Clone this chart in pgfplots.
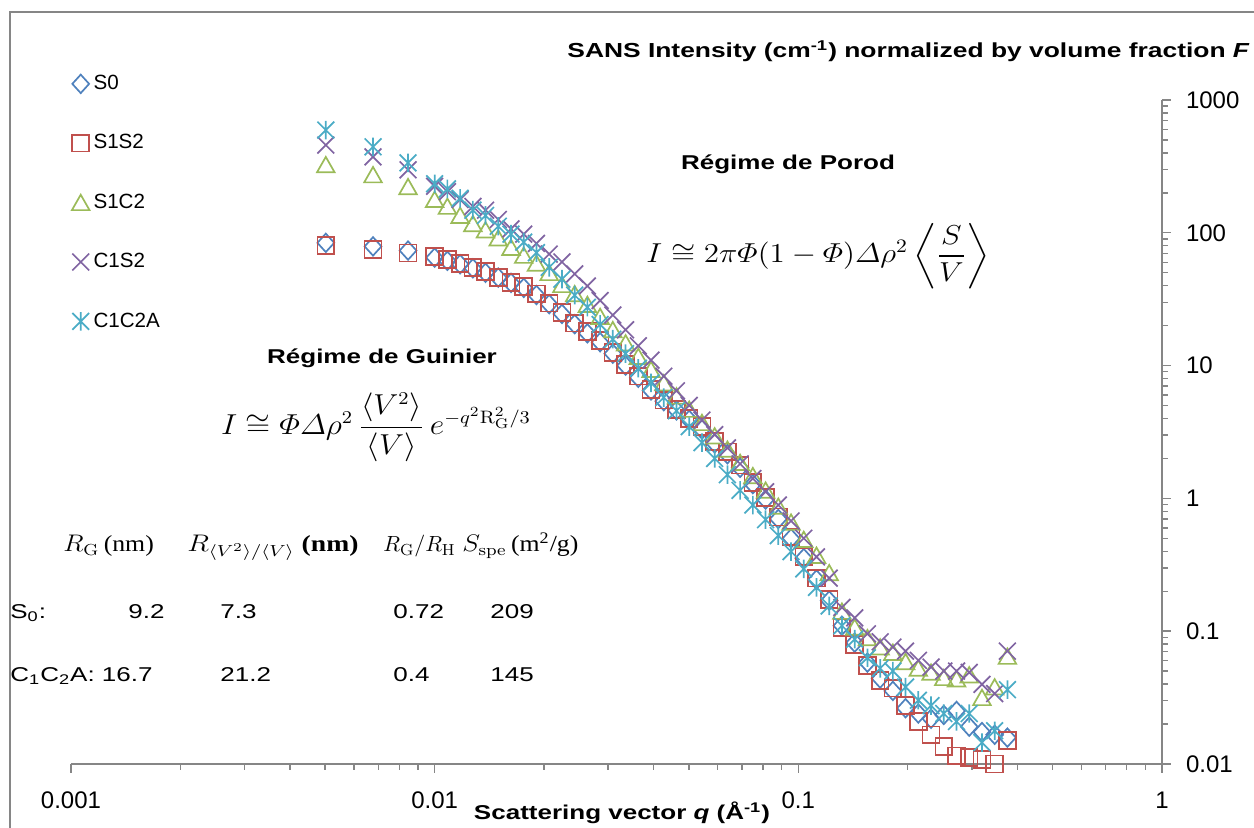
\documentclass[border=0pt]{standalone}
\usepackage{amsmath}
\usepackage[no-math]{fontspec}
\setmainfont{Liberation Sans}
\newfontfamily\wide[FakeStretch=1.3]{Liberation Sans}
\newfontfamily\serif{Liberation Serif}
\usepackage{graphicx}
\usepackage{pgfplots}
\pgfplotsset{compat=1.18}

\definecolor{cSO}{HTML}{4F81BD}
\definecolor{cSS}{HTML}{C0504D}
\definecolor{cSC}{HTML}{9BBB59}
\definecolor{cCS}{HTML}{8064A2}
\definecolor{cCC}{HTML}{4BACC6}
\definecolor{axgray}{HTML}{868686}

% Excel-like markers
\pgfdeclareplotmark{rdiamond}{%
  \pgfpathmoveto{\pgfqpoint{0pt}{1.1\pgfplotmarksize}}%
  \pgfpathlineto{\pgfqpoint{\pgfplotmarksize}{0pt}}%
  \pgfpathlineto{\pgfqpoint{0pt}{-1.1\pgfplotmarksize}}%
  \pgfpathlineto{\pgfqpoint{-\pgfplotmarksize}{0pt}}%
  \pgfpathclose\pgfusepathqstroke}
\pgfdeclareplotmark{tri}{%
  \pgfpathmoveto{\pgfqpoint{0pt}{0.9\pgfplotmarksize}}%
  \pgfpathlineto{\pgfqpoint{\pgfplotmarksize}{-0.85\pgfplotmarksize}}%
  \pgfpathlineto{\pgfqpoint{-\pgfplotmarksize}{-0.85\pgfplotmarksize}}%
  \pgfpathclose\pgfusepathqstroke}
\pgfdeclareplotmark{xcross}{%
  \pgfpathmoveto{\pgfqpoint{-\pgfplotmarksize}{-\pgfplotmarksize}}%
  \pgfpathlineto{\pgfqpoint{\pgfplotmarksize}{\pgfplotmarksize}}%
  \pgfpathmoveto{\pgfqpoint{-\pgfplotmarksize}{\pgfplotmarksize}}%
  \pgfpathlineto{\pgfqpoint{\pgfplotmarksize}{-\pgfplotmarksize}}%
  \pgfusepathqstroke}
\pgfdeclareplotmark{xstar}{%
  \pgfpathmoveto{\pgfqpoint{-\pgfplotmarksize}{-\pgfplotmarksize}}%
  \pgfpathlineto{\pgfqpoint{\pgfplotmarksize}{\pgfplotmarksize}}%
  \pgfpathmoveto{\pgfqpoint{-\pgfplotmarksize}{\pgfplotmarksize}}%
  \pgfpathlineto{\pgfqpoint{\pgfplotmarksize}{-\pgfplotmarksize}}%
  \pgfpathmoveto{\pgfqpoint{0pt}{1.1\pgfplotmarksize}}%
  \pgfpathlineto{\pgfqpoint{0pt}{-1.1\pgfplotmarksize}}%
  \pgfusepathqstroke}

\begin{document}
\begin{tikzpicture}
\path[use as bounding box] (0,0) rectangle (627pt,414pt);
\begin{axis}[
    at={(35.5pt,32pt)}, anchor=south west,
    scale only axis, width=545.5pt, height=332pt,
    xmode=log, ymode=log,
    xmin=0.001, xmax=1, ymin=0.01, ymax=1000,
    axis x line=bottom, axis y line=right,
    axis line style={draw=axgray, line width=1.1pt, -},
    tick align=outside,
    xtick={0.001,0.01,0.1,1}, xticklabels={0.001,0.01,0.1,1},
    minor xtick={0.002,0.003,0.004,0.005,0.006,0.007,0.008,0.009,
                 0.02,0.03,0.04,0.05,0.06,0.07,0.08,0.09,
                 0.2,0.3,0.4,0.5,0.6,0.7,0.8,0.9},
    ytick={0.01,0.1,1,10,100,1000}, yticklabels={0.01,0.1,1,10,100,1000},
    minor ytick={0.02,0.03,0.04,0.05,0.06,0.07,0.08,0.09,
                 0.2,0.3,0.4,0.5,0.6,0.7,0.8,0.9,
                 2,3,4,5,6,7,8,9,20,30,40,50,60,70,80,90,
                 200,300,400,500,600,700,800,900},
    major tick length=4.5pt, minor tick length=3pt,
    tick style={draw=axgray, line width=0.7pt},
    tick label style={font=\fontsize{12}{14}\selectfont},
    xticklabel style={anchor=north, yshift=-6pt},
    yticklabel style={anchor=west, xshift=4pt},
    clip=false,
    legend cell align=left,
    legend style={at={(axis description cs:0.0005,1.044)}, anchor=north west,
        draw=none, fill=none, inner sep=0pt, row sep=17pt,
        font=\fontsize{10.3}{12}\selectfont},
    legend image code/.code={\draw[mark repeat=2,mark phase=2,#1]
        plot coordinates {(0cm,0cm) (0.15cm,0cm) (0.3cm,0cm)};},
    every axis plot/.append style={only marks, line width=0.85pt},
]
% S0
\addplot[color=cSO, mark=rdiamond, mark size=4.2pt] coordinates {
(0.00502,84) (0.00677,79) (0.00845,73.5)
(0.0100,65.0) (0.01084,61.5) (0.01175,58.0) (0.01274,54.0) (0.0138,50.0)
(0.01496,46.0) (0.01622,42.0) (0.01758,38.5) (0.01905,34.0) (0.02065,29.0)
(0.02239,24.5) (0.02427,20.5) (0.0263,17.5) (0.02851,15.0) (0.0309,12.3)
(0.0335,10.0) (0.03631,8.1) (0.03936,6.5) (0.04266,5.4) (0.04624,4.6)
(0.05012,3.9) (0.05433,3.3) (0.05888,2.6) (0.06383,2.15) (0.06918,1.70)
(0.07499,1.28) (0.08128,0.98) (0.0881,0.70) (0.0955,0.50) (0.1035,0.355)
(0.1122,0.245) (0.1216,0.170) (0.1318,0.110) (0.1429,0.082) (0.1549,0.058)
(0.1679,0.044) (0.182,0.0355) (0.1972,0.0263) (0.2138,0.0240) (0.2317,0.0219)
(0.2512,0.0234) (0.2723,0.0251) (0.2951,0.0191) (0.3199,0.0174) (0.3467,0.0166)
(0.3758,0.0158)
};
% S1S2
\addplot[color=cSS, mark=square, mark size=4.2pt] coordinates {
(0.00502,80) (0.00677,75) (0.00845,70.5)
(0.0100,66.1) (0.01084,63.1) (0.01175,58.9) (0.01274,55.0) (0.0138,51.3)
(0.01496,46.2) (0.01622,42.2) (0.01758,39.4) (0.01905,34.7) (0.02065,29.5)
(0.02239,25.1) (0.02427,20.9) (0.0263,18.0) (0.02851,15.5) (0.0309,12.6)
(0.0335,10.2) (0.03631,8.32) (0.03936,6.61) (0.04266,5.50) (0.04624,4.68)
(0.05012,3.98) (0.05433,3.47) (0.05888,2.69) (0.06383,2.24) (0.06918,1.78)
(0.07499,1.32) (0.08128,1.02) (0.0881,0.724) (0.0955,0.513) (0.1035,0.363)
(0.1122,0.251) (0.1216,0.174) (0.1318,0.107) (0.1429,0.0794) (0.1549,0.0550)
(0.1679,0.0427) (0.182,0.0372) (0.1972,0.0275) (0.2138,0.0209) (0.2317,0.0166)
(0.2512,0.0135) (0.2723,0.0115) (0.2951,0.0112) (0.3199,0.0108) (0.3467,0.0100)
(0.3758,0.0150)
};
% S1C2
\addplot[color=cSC, mark=tri, mark size=4.4pt] coordinates {
(0.00502,325) (0.00677,273) (0.00845,222)
(0.0100,178) (0.01084,158) (0.01175,135) (0.01274,117) (0.0138,105)
(0.01496,91.2) (0.01622,77.6) (0.01758,67.6) (0.01905,58.9) (0.02065,50.1)
(0.02239,40.7) (0.02427,34.7) (0.0263,28.8) (0.02851,23.4) (0.0309,18.6)
(0.0335,14.8) (0.03631,11.7) (0.03936,9.33) (0.04266,7.41) (0.04624,5.89)
(0.05012,4.68) (0.05433,3.72) (0.05888,2.95) (0.06383,2.34) (0.06918,1.86)
(0.07499,1.48) (0.08128,1.15) (0.0881,0.871) (0.0955,0.661) (0.1035,0.490)
(0.1122,0.372) (0.1216,0.275) (0.1318,0.141) (0.1429,0.107) (0.1549,0.0891)
(0.1679,0.0759) (0.182,0.0692) (0.1972,0.0589) (0.2138,0.0525) (0.2317,0.0490)
(0.2512,0.0447) (0.2723,0.0437) (0.2951,0.0468) (0.3199,0.0316) (0.3467,0.0380)
(0.3758,0.0646)
};
% C1S2
\addplot[color=cCS, mark=xcross, mark size=4.2pt] coordinates {
(0.00502,458) (0.00677,373) (0.00845,298)
(0.0100,224) (0.01084,204) (0.01175,178) (0.01274,158) (0.0138,148)
(0.01496,126) (0.01622,107) (0.01758,97.7) (0.01905,83.2) (0.02065,69.2)
(0.02239,60.3) (0.02427,49.0) (0.0263,39.8) (0.02851,30.9) (0.0309,24.0)
(0.0335,18.6) (0.03631,14.1) (0.03936,11.0) (0.04266,8.32) (0.04624,6.46)
(0.05012,5.01) (0.05433,3.89) (0.05888,3.02) (0.06383,2.40) (0.06918,1.82)
(0.07499,1.41) (0.08128,1.12) (0.0881,0.891) (0.0955,0.676) (0.1035,0.501)
(0.1122,0.363) (0.1216,0.251) (0.1318,0.151) (0.1429,0.126) (0.1549,0.0955)
(0.1679,0.0832) (0.182,0.0759) (0.1972,0.0708) (0.2138,0.0603) (0.2317,0.0537)
(0.2512,0.0501) (0.2723,0.0501) (0.2951,0.0490) (0.3199,0.0398) (0.3467,0.0339)
(0.3758,0.0708)
};
% C1C2A
\addplot[color=cCC, mark=xstar, mark size=4.2pt] coordinates {
(0.00502,594) (0.00677,444) (0.00845,336)
(0.0100,234) (0.01084,214) (0.01175,182) (0.01274,148) (0.0138,135)
(0.01496,112) (0.01622,97.7) (0.01758,85.1) (0.01905,70.8) (0.02065,55.0)
(0.02239,44.7) (0.02427,33.9) (0.0263,27.5) (0.02851,20.4) (0.0309,15.8)
(0.0335,12.3) (0.03631,9.55) (0.03936,7.41) (0.04266,5.75) (0.04624,4.57)
(0.05012,3.47) (0.05433,2.63) (0.05888,2.00) (0.06383,1.51) (0.06918,1.15)
(0.07499,0.891) (0.08128,0.692) (0.0881,0.525) (0.0955,0.398) (0.1035,0.295)
(0.1122,0.214) (0.1216,0.155) (0.1318,0.110) (0.1429,0.0871) (0.1549,0.0631)
(0.1679,0.0525) (0.182,0.0501) (0.1972,0.0380) (0.2138,0.0302) (0.2317,0.0275)
(0.2512,0.0240) (0.2723,0.0209) (0.2951,0.0240) (0.3199,0.0145) (0.3467,0.0178)
(0.3758,0.0363)
};
\legend{S0, S1S2, S1C2, C1S2, C1C2A}
\end{axis}

% annotations, in pixel units of the reference (y downwards)
\begin{scope}[x=0.5pt, y=-0.5pt, shift={(0pt,414pt)}]
\draw[axgray, line width=0.75pt] (10,828) -- (10,12) -- (1260,12);
\node[anchor=base west, inner sep=0pt, font=\wide\bfseries\fontsize{10.15}{12}\selectfont]
  at (567,58) {SANS Intensity (cm\textsuperscript{-1}) normalized by volume fraction \textit{F}};
\node[anchor=base, inner sep=0pt, font=\wide\bfseries\fontsize{10}{12}\selectfont]
  at (622,820) {Scattering vector \textit{q} (Å\textsuperscript{-1})};
\node[anchor=base, inner sep=0pt, font=\wide\bfseries\fontsize{10}{12}\selectfont]
  at (788,170) {Régime de Porod};
\node[anchor=base, inner sep=0pt, font=\wide\bfseries\fontsize{10}{12}\selectfont]
  at (382,364) {Régime de Guinier};
\node[inner sep=0pt, font=\fontsize{14}{16}\selectfont] at (818,256)
  {\scalebox{1.08}[0.95]{$I \cong 2\pi\varPhi(1-\varPhi)\varDelta\rho^{2}\left\langle\dfrac{S}{V}\right\rangle$}};
\node[inner sep=0pt, font=\fontsize{13.5}{16}\selectfont] at (376,427)
  {\scalebox{1.1}[1]{$I \cong \varPhi\varDelta\rho^{2}\,\dfrac{\langle V^{2}\rangle}{\langle V\rangle}\,e^{-q^{2}\mathrm{R}_{\mathrm{G}}^{2}/3}$}};
% table
\begin{scope}[every node/.style={anchor=base west, inner sep=0pt}]
\node[font=\serif\fontsize{11.5}{13}\selectfont] at (63,552) {\scalebox{1.12}[1]{$R_{\mathrm{G}}$\,(nm)}};
\node[font=\serif\fontsize{11.5}{13}\selectfont] at (187,552) {\scalebox{1.2}[1]{$R_{\langle V^{2}\rangle/\langle V\rangle}$ \textbf{(nm)}}};
\node[font=\serif\fontsize{11}{13}\selectfont] at (383,552) {$R_{\mathrm{G}}/R_{\mathrm{H}}$};
\node[font=\serif\fontsize{11.5}{13}\selectfont] at (462,552) {\scalebox{1.12}[1]{$S_{\mathrm{spe}}$\,(m\textsuperscript{2}/g)}};
\node[font=\wide\fontsize{10}{12}\selectfont] at (10,619) {S\textsubscript{0}:};
\node[font=\wide\fontsize{10}{12}\selectfont, anchor=base east] at (165,619) {9.2};
\node[font=\wide\fontsize{10}{12}\selectfont] at (220,619) {7.3};
\node[font=\wide\fontsize{10}{12}\selectfont] at (393,619) {0.72};
\node[font=\wide\fontsize{10}{12}\selectfont] at (490,619) {209};
\node[font=\wide\fontsize{10}{12}\selectfont] at (10,682) {C\textsubscript{1}C\textsubscript{2}A: 16.7};
\node[font=\wide\fontsize{10}{12}\selectfont] at (220,682) {21.2};
\node[font=\wide\fontsize{10}{12}\selectfont] at (393,682) {0.4};
\node[font=\wide\fontsize{10}{12}\selectfont] at (490,682) {145};
\end{scope}
\end{scope}
\end{tikzpicture}
\end{document}
